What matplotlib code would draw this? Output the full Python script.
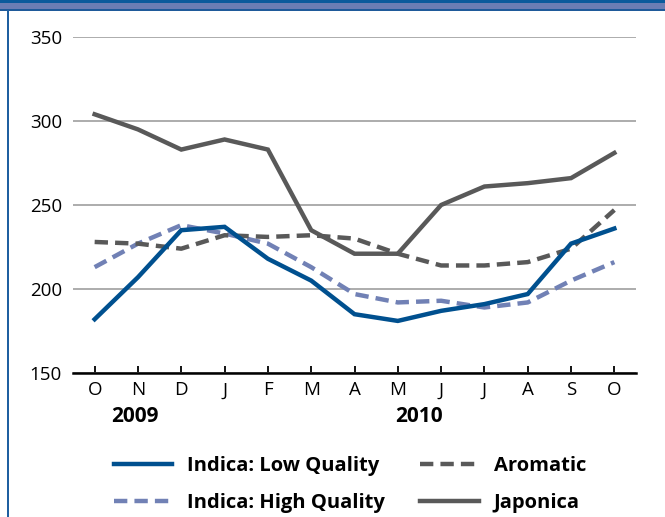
import matplotlib
matplotlib.use("Agg")
import matplotlib.pyplot as plt
from matplotlib.patches import Rectangle

months = ["O", "N", "D", "J", "F", "M", "A", "M", "J", "J", "A", "S", "O"]
indica_low = [182, 207, 235, 237, 218, 205, 185, 181, 187, 191, 197, 227, 236]
indica_high = [213, 227, 238, 233, 227, 213, 197, 192, 193, 189, 192, 205, 216]
aromatic = [228, 227, 224, 232, 231, 232, 230, 221, 214, 214, 216, 224, 247]
japonica = [304, 295, 283, 289, 283, 235, 221, 221, 250, 261, 263, 266, 281]
yticks = [150, 200, 250, 300, 350]
years = [("2009", 0.92), ("2010", 7.49)]

plt.rcParams['font.family'] = ['Open Sans', 'DejaVu Sans']

W, H = 665, 517
fig = plt.figure(figsize=(W / 100, H / 100), dpi=100)

# decorations
def frect(x0, y0, x1, y1, color):
    fig.patches.append(Rectangle((x0 / W, 1 - y1 / H), (x1 - x0) / W, (y1 - y0) / H,
                                 transform=fig.transFigure, color=color, lw=0, zorder=0))
frect(0, 0, W, 3, "#0b5a9c")
frect(0, 3, W, 9, "#6b7db4")
frect(0, 9, W, 11, "#1f5a9a")
frect(6.5, 10, 8.5, H, "#1f5fa0")

ax = fig.add_axes([73 / W, 1 - 373 / H, (636 - 73) / W, (373 - 37) / H])
x = list(range(len(months)))
lw = 3.2
dash = (3.0, 1.6)
l_low, = ax.plot(x, indica_low, color="#00508f", lw=lw, solid_joinstyle="miter", zorder=5)
l_high, = ax.plot(x, indica_high, color="#7181b5", lw=lw, dashes=dash, zorder=3)
l_aro, = ax.plot(x, aromatic, color="#595959", lw=lw, dashes=dash, zorder=4)
l_jap, = ax.plot(x, japonica, color="#595959", lw=lw, solid_joinstyle="miter", zorder=4)

ax.set_xlim(-0.5, 12.5)
ax.set_ylim(150, 350)
ax.set_yticks(yticks)
ax.set_xticks(x)
ax.set_xticklabels(months)
ax.tick_params(axis="y", length=0, pad=8, labelsize=13.5)
ax.tick_params(axis="x", direction="in", length=5, width=1.3, color="black", pad=6, labelsize=13.5)
for s in ["top", "right", "left"]:
    ax.spines[s].set_visible(False)
ax.spines["bottom"].set_linewidth(1.8)
ax.spines["bottom"].set_color("black")
ax.grid(axis="y", color="#a6a6a6", lw=1.3)
ax.set_axisbelow(True)

for label, xp in years:
    ax.text(xp, -0.128, label, transform=ax.get_xaxis_transform(), ha="center", va="center",
            fontsize=15, fontweight="bold")

leg = fig.legend([l_low, l_high, l_aro, l_jap],
                 ["Indica: Low Quality", "Indica: High Quality", "Aromatic", "Japonica"],
                 ncol=2, loc="center", bbox_to_anchor=(0.526, 1 - 484.5 / H), frameon=False,
                 prop={"size": 14.5, "weight": "bold"}, handlelength=2.9, handletextpad=0.75,
                 columnspacing=1.75, labelspacing=0.85, borderpad=0)

fig.savefig("out.png", dpi=100)
